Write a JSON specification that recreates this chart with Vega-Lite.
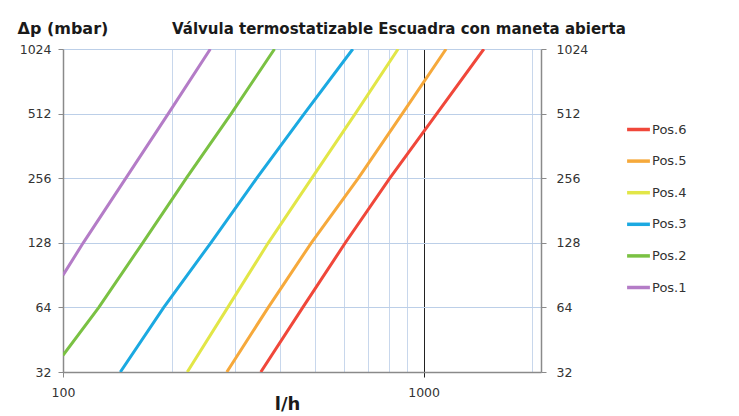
{
  "$schema": "https://vega.github.io/schema/vega-lite/v6.json",
  "width": 478,
  "height": 323,
  "autosize": {"type": "none"},
  "padding": {"left": 63, "top": 49, "right": 198, "bottom": 44},
  "background": "white",
  "title": {
    "text": "Válvula termostatizable Escuadra con maneta abierta",
    "font": "DejaVu Sans",
    "fontSize": 15,
    "fontWeight": "bold",
    "color": "#1a1a1a",
    "anchor": "start",
    "frame": "group",
    "dx": 109,
    "dy": 29,
    "baseline": "alphabetic",
    "offset": 0
  },
  "data": {
    "values": [
      {"pos": "Pos.1", "q": 100, "dp": 90.5},
      {"pos": "Pos.1", "q": 113.8, "dp": 128},
      {"pos": "Pos.1", "q": 149.4, "dp": 256},
      {"pos": "Pos.1", "q": 195.9, "dp": 512},
      {"pos": "Pos.1", "q": 256.2, "dp": 1024},
      {"pos": "Pos.2", "q": 100, "dp": 38.3},
      {"pos": "Pos.2", "q": 125.7, "dp": 64},
      {"pos": "Pos.2", "q": 166.4, "dp": 128},
      {"pos": "Pos.2", "q": 219.8, "dp": 256},
      {"pos": "Pos.2", "q": 292.8, "dp": 512},
      {"pos": "Pos.2", "q": 386, "dp": 1024},
      {"pos": "Pos.3", "q": 144.2, "dp": 32},
      {"pos": "Pos.3", "q": 190.3, "dp": 64},
      {"pos": "Pos.3", "q": 257, "dp": 128},
      {"pos": "Pos.3", "q": 344.6, "dp": 256},
      {"pos": "Pos.3", "q": 466.9, "dp": 512},
      {"pos": "Pos.3", "q": 636.3, "dp": 1024},
      {"pos": "Pos.4", "q": 221.1, "dp": 32},
      {"pos": "Pos.4", "q": 286.4, "dp": 64},
      {"pos": "Pos.4", "q": 370.9, "dp": 128},
      {"pos": "Pos.4", "q": 489.8, "dp": 256},
      {"pos": "Pos.4", "q": 646.7, "dp": 512},
      {"pos": "Pos.4", "q": 849.8, "dp": 1024},
      {"pos": "Pos.5", "q": 284.6, "dp": 32},
      {"pos": "Pos.5", "q": 370.9, "dp": 64},
      {"pos": "Pos.5", "q": 488.2, "dp": 128},
      {"pos": "Pos.5", "q": 659.2, "dp": 256},
      {"pos": "Pos.5", "q": 873, "dp": 512},
      {"pos": "Pos.5", "q": 1154.4, "dp": 1024},
      {"pos": "Pos.6", "q": 353.6, "dp": 32},
      {"pos": "Pos.6", "q": 462.4, "dp": 64},
      {"pos": "Pos.6", "q": 606.6, "dp": 128},
      {"pos": "Pos.6", "q": 805.9, "dp": 256},
      {"pos": "Pos.6", "q": 1088, "dp": 512},
      {"pos": "Pos.6", "q": 1469, "dp": 1024}
    ]
  },
  "layer": [
    {
      "mark": {"type": "line", "strokeWidth": 3, "interpolate": "linear", "clip": true},
      "encoding": {
        "x": {
          "field": "q",
          "type": "quantitative",
          "scale": {"type": "log", "domain": [100, 2116], "nice": false},
          "axis": {
            "values": [100, 200, 300, 400, 500, 600, 700, 800, 900, 1000, 2000],
            "labelExpr": "datum.value == 100 || datum.value == 1000 ? format(datum.value, 'd') : ''",
            "labelOverlap": false,
            "labelFlush": false,
            "labelBound": false,
            "labelFont": "DejaVu Sans",
            "labelFontSize": 12.5,
            "labelColor": "#333333",
            "labelPadding": 9,
            "grid": true,
            "gridColor": {"condition": {"test": "datum.value == 1000", "value": "#222222"}, "value": "#c8d7ec"},
            "gridWidth": 1,
            "tickColor": {"condition": {"test": "datum.value == 1000", "value": "#222222"}, "value": "#8a8a8a"},
            "tickOpacity": {"condition": {"test": "datum.value == 100 || datum.value == 1000", "value": 1}, "value": 0},
            "tickSize": 5,
            "domainColor": "#8a8a8a",
            "domainWidth": 1.5,
            "title": "l/h",
            "titleFont": "DejaVu Sans",
            "titleFontSize": 18,
            "titleFontWeight": "bold",
            "titleColor": "#1a1a1a",
            "titleX": 224,
            "titleY": 37,
            "titleAlign": "center",
            "titleBaseline": "alphabetic"
          }
        },
        "y": {
          "field": "dp",
          "type": "quantitative",
          "scale": {"type": "log", "base": 2, "domain": [32, 1024], "nice": false},
          "axis": {
            "orient": "left",
            "values": [32, 64, 128, 256, 512, 1024],
            "format": "d",
            "grid": true,
            "gridColor": "#bccfe8",
            "gridWidth": 1,
            "domainColor": "#8a8a8a",
            "domainWidth": 1.5,
            "tickColor": "#8a8a8a",
            "tickSize": 5,
            "labelFont": "DejaVu Sans",
            "labelFontSize": 12.5,
            "labelColor": "#333333",
            "labelPadding": 7,
            "labelOverlap": false,
            "labelFlush": false,
            "title": "Δp (mbar)",
            "titleFont": "DejaVu Sans",
            "titleAngle": 0,
            "titleAlign": "left",
            "titleBaseline": "alphabetic",
            "titleX": -46,
            "titleY": -16,
            "titleFontSize": 16,
            "titleFontWeight": "bold",
            "titleColor": "#1a1a1a"
          }
        },
        "color": {
          "field": "pos",
          "type": "nominal",
          "scale": {
            "domain": ["Pos.6", "Pos.5", "Pos.4", "Pos.3", "Pos.2", "Pos.1"],
            "range": ["#f0473a", "#f6a93b", "#e2e647", "#1ba9e1", "#7ac143", "#b47cc7"]
          },
          "legend": {
            "title": null,
            "orient": "none",
            "legendX": 562,
            "legendY": 67,
            "symbolType": "stroke",
            "symbolSize": 520,
            "symbolStrokeWidth": 3.5,
            "labelFont": "DejaVu Sans",
            "labelFontSize": 13,
            "labelColor": "#333333",
            "labelOffset": 0,
            "rowPadding": 10.6,
            "padding": 0
          }
        }
      }
    },
    {
      "mark": {"type": "point", "opacity": 0},
      "encoding": {
        "x": {"field": "q", "type": "quantitative"},
        "y": {
          "field": "dp",
          "type": "quantitative",
          "axis": {
            "orient": "right",
            "values": [32, 64, 128, 256, 512, 1024],
            "format": "d",
            "grid": false,
            "domainColor": "#8a8a8a",
            "domainWidth": 1.5,
            "tickColor": "#8a8a8a",
            "tickSize": 5,
            "labelFont": "DejaVu Sans",
            "labelFontSize": 12.5,
            "labelColor": "#333333",
            "labelPadding": 10,
            "labelOverlap": false,
            "labelFlush": false,
            "title": null
          }
        }
      }
    }
  ],
  "resolve": {"axis": {"y": "independent"}},
  "config": {"view": {"stroke": null}, "font": "DejaVu Sans"}
}
